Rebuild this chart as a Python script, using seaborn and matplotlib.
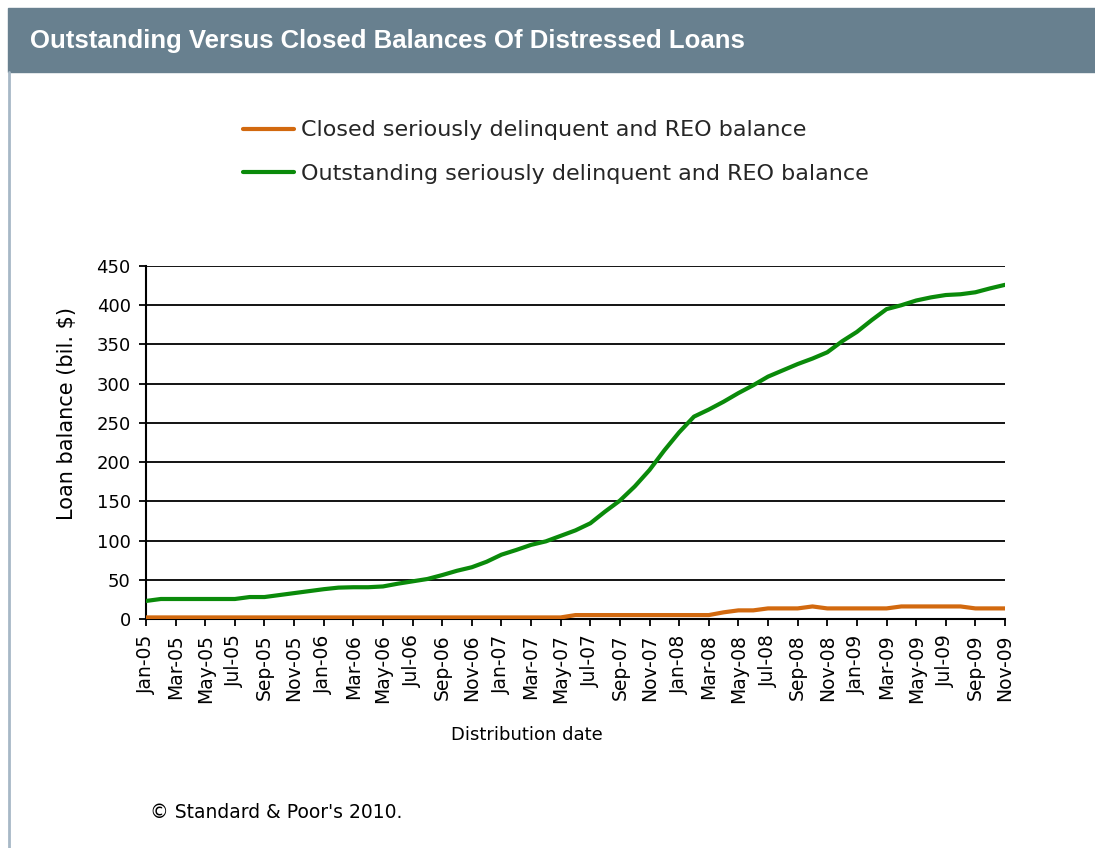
import numpy as np
import pandas as pd
import matplotlib
matplotlib.use("Agg")
import matplotlib.pyplot as plt
import seaborn as sns
from matplotlib.patches import Rectangle
from matplotlib.lines import Line2D

# monthly distribution dates, Jan-05 .. Nov-09
months = pd.date_range("2005-01-01", "2009-11-01", freq="MS")
month_labels = [d.strftime("%b-%y") for d in months]

# Closed seriously delinquent and REO balance (bil. $)
closed = [2, 2, 2, 2, 2, 2, 2, 2, 2, 2, 2, 2,
          2, 2, 2, 2, 2, 2, 2, 2, 2, 2, 2, 2,
          2, 2, 2, 2, 2, 5, 5, 5, 5, 5, 5, 5,
          5, 5, 5, 8.5, 11, 11, 13.5, 13.5, 13.5, 16, 13.5, 13.5,
          13.5, 13.5, 13.5, 16, 16, 16, 16, 16, 13.5, 13.5, 13.5]

# Outstanding seriously delinquent and REO balance (bil. $)
outstanding = [23, 25.5, 25.5, 25.5, 25.5, 25.5, 25.5, 28, 28, 30.5, 33, 35.5,
               38, 40, 40.5, 40.5, 41.5, 45, 48, 51, 56, 61.5, 66, 73,
               82, 88, 94.5, 99, 106, 113, 122, 137, 151, 169, 190, 215,
               238, 258, 267, 277, 288, 298, 309, 317, 325, 332, 340, 354,
               366, 381, 395, 400, 406, 410, 413, 414, 416.5, 421.5, 426]

closed_name = "Closed seriously delinquent and REO balance"
outst_name = "Outstanding seriously delinquent and REO balance"
colors = {closed_name: "#D2690F", outst_name: "#0A8A0A"}

df = pd.concat([
    pd.DataFrame({"idx": np.arange(len(months)), "value": closed, "series": closed_name}),
    pd.DataFrame({"idx": np.arange(len(months)), "value": outstanding, "series": outst_name}),
])

sns.set_theme(style="white")
plt.rcParams["font.family"] = ["DejaVu Sans"]

W, H = 1095, 848
fig = plt.figure(figsize=(W / 100, H / 100), dpi=100)
fig.patch.set_facecolor("white")

# header bar and left frame line
fig.patches.append(Rectangle((8 / W, 1 - 72 / H), 1 - 8 / W, 64 / H,
                             transform=fig.transFigure, color="#68808F", zorder=0))
fig.lines.append(Line2D([8.5 / W, 8.5 / W], [0, 1 - 72 / H],
                        transform=fig.transFigure, color="#A7B8C6", lw=2))
fig.text(30 / W, 1 - 41 / H, "Outstanding Versus Closed Balances Of Distressed Loans",
         color="white", fontsize=18.5, fontweight="bold", va="center", ha="left",
         family=["Liberation Sans"])

ax = fig.add_axes([146 / W, 1 - 619 / H, (1005 - 146) / W, (619 - 266) / H])
sns.lineplot(data=df, x="idx", y="value", hue="series", palette=colors,
             linewidth=3, ax=ax, legend=False, zorder=3)

ax.set_xlim(0, len(months) - 1)
ax.set_ylim(0, 450)
ax.set_yticks(np.arange(0, 451, 50))
ax.set_xticks(np.arange(0, len(months), 2))
ax.set_xticklabels(month_labels[::2], rotation=90, fontsize=13.5, color="black")
ax.tick_params(axis="y", labelsize=13, labelcolor="black", pad=6)
ax.tick_params(axis="x", pad=6)
ax.tick_params(axis="both", direction="out", length=5, width=1.3, color="black",
               bottom=True, left=True)
ax.grid(axis="y", color="black", linewidth=1.3)
ax.set_axisbelow(True)
for side in ["top", "right"]:
    ax.spines[side].set_visible(False)
for side in ["left", "bottom"]:
    ax.spines[side].set_color("black")
    ax.spines[side].set_linewidth(1.5)
ax.set_xlabel("")
ax.set_ylabel("")

fig.text(527 / W, 1 - 735 / H, "Distribution date", fontsize=13, color="black",
         ha="center", va="center")
fig.text(67 / W, 1 - 414 / H, "Loan balance (bil. $)", fontsize=15, color="black",
         ha="center", va="center", rotation=90)

# legend laid out as in the source: stacked entries above the plot
handles = [Line2D([], [], color=colors[closed_name], lw=3),
           Line2D([], [], color=colors[outst_name], lw=3)]
fig.legend(handles, [closed_name, outst_name], loc="center",
           bbox_to_anchor=(556 / W, 1 - 152 / H), frameon=False,
           fontsize=16, handlelength=2.3, handletextpad=0.3, labelspacing=1.05)

fig.text(150 / W, 1 - 813 / H, "\u00a9 Standard & Poor's 2010.", fontsize=13.5,
         color="black", va="center", ha="left")

fig.savefig("out.png", dpi=100, facecolor="white")
